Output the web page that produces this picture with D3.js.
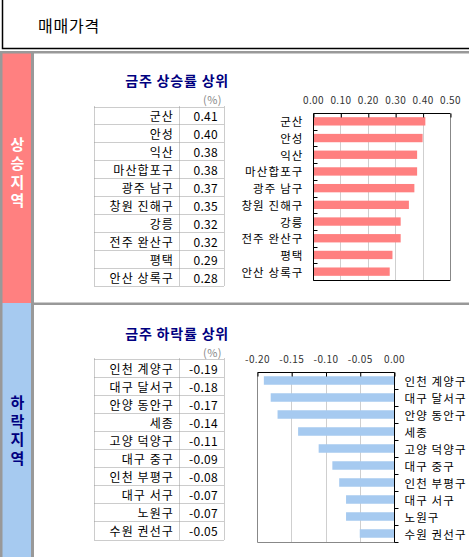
<!DOCTYPE html>
<html><head><meta charset="utf-8">
<script src="https://cdn.jsdelivr.net/npm/d3@7"></script>
<style>
html,body{margin:0;padding:0;background:#fff;}
svg{display:block;}
text{font-family:"Noto Sans CJK KR","Noto Sans",sans-serif;}
</style></head>
<body>
<script>
const headerTitle = "매매가격";
const upSideLabel = "상승지역";
const downSideLabel = "하락지역";
const upTitle = "금주 상승률 상위";
const downTitle = "금주 하락률 상위";
const unitLabel = "(%)";
const upCategories = ["군산","안성","익산","마산합포구","광주 남구","창원 진해구","강릉","전주 완산구","평택","안산 상록구"];
const upValues = [0.41,0.40,0.38,0.38,0.37,0.35,0.32,0.32,0.29,0.28];
const upTicks = [0,0.1,0.2,0.3,0.4,0.5];
const downCategories = ["인천 계양구","대구 달서구","안양 동안구","세종","고양 덕양구","대구 중구","인천 부평구","대구 서구","노원구","수원 권선구"];
const downValues = [-0.19,-0.18,-0.17,-0.14,-0.11,-0.09,-0.08,-0.07,-0.07,-0.05];
const downTicks = [-0.2,-0.15,-0.1,-0.05,0];

const W = 469, H = 557;
const svg = d3.select("body").append("svg").attr("width", W).attr("height", H);

// header box
svg.append("rect").attr("x",2.5).attr("y",-2).attr("width",W+5).attr("height",50.5)
  .attr("fill","#fff").attr("stroke","#000").attr("stroke-width",1.5);
svg.append("text").attr("x",38).attr("y",25).attr("dominant-baseline","central")
  .attr("font-size",16).attr("letter-spacing",0.8).attr("fill","#000").text(headerTitle);

// gray separator under header
svg.append("rect").attr("x",0).attr("y",51).attr("width",W).attr("height",2.5).attr("fill","#999");
// sidebar
svg.append("rect").attr("x",0).attr("y",51).attr("width",34).attr("height",H-51).attr("fill","#999");
svg.append("rect").attr("x",2.5).attr("y",53.5).attr("width",28.5).attr("height",303-53.5).attr("fill","#FF8080");
svg.append("rect").attr("x",2.5).attr("y",303).attr("width",28.5).attr("height",H-303).attr("fill","#A6CAF0");
// divider between sections
svg.append("rect").attr("x",34).attr("y",302.5).attr("width",W-34).attr("height",2.5).attr("fill","#999");

function sideLabel(txt, cy, color){
  svg.append("text").attr("x",17.5).attr("y",cy).attr("text-anchor","middle")
    .style("writing-mode","vertical-rl").style("glyph-orientation-vertical","0")
    .attr("font-size",15).attr("letter-spacing",3.6).attr("font-weight","bold").attr("fill",color).text(txt);
}
sideLabel(upSideLabel, 174.5, "#fff");
sideLabel(downSideLabel, 432, "#000080");

function drawTable(cats, vals, titleText, titleY, unitY, top, bottom){
  const g = svg.append("g");
  g.append("text").attr("x",229).attr("y",titleY).attr("text-anchor","end").attr("dominant-baseline","central")
    .attr("font-size",14).attr("letter-spacing",0.8).attr("font-weight","bold").attr("fill","#000080").text(titleText);
  g.append("text").attr("x",222).attr("y",unitY).attr("text-anchor","end").attr("dominant-baseline","central")
    .attr("font-size",11).attr("letter-spacing",0.5).attr("fill","#888").text(unitLabel);
  const y = d3.scaleBand().domain(d3.range(cats.length)).range([top,bottom]);
  const left = 94.5, mid = 179.5, right = 224.5;
  const dash = {"stroke":"#999","stroke-width":1,"stroke-dasharray":"1,1","fill":"none"};
  const lines = [];
  d3.range(cats.length+1).forEach(i=>{ const yy = Math.round(top + i*y.step())+0.5; lines.push([left,yy,right,yy]); });
  [left,mid,right].forEach(x=>lines.push([x,top,x,bottom]));
  g.selectAll("line").data(lines).join("line")
    .attr("x1",d=>d[0]).attr("y1",d=>d[1]).attr("x2",d=>d[2]).attr("y2",d=>d[3])
    .each(function(){ const s=d3.select(this); for(const k in dash) s.attr(k,dash[k]); });
  g.selectAll("text.cat").data(cats).join("text").attr("class","cat")
    .attr("x",174).attr("y",(d,i)=>y(i)+y.bandwidth()/2+0.5).attr("text-anchor","end").attr("dominant-baseline","central")
    .attr("font-size",12).attr("letter-spacing",1.1).attr("fill","#000").text(d=>d);
  g.selectAll("text.val").data(vals).join("text").attr("class","val")
    .attr("x",218).attr("y",(d,i)=>y(i)+y.bandwidth()/2+0.5).attr("text-anchor","end").attr("dominant-baseline","central")
    .attr("font-size",12).attr("letter-spacing",0.3).attr("fill","#000").text(d=>d3.format(".2f")(d).replace("−","-"));
}
drawTable(upCategories, upValues, upTitle, 80, 99, 106.5, 286);
drawTable(downCategories, downValues, downTitle, 333, 352, 358.5, 539.5);

function drawChart(cats, vals, ticks, domain, x0, x1, y0, y1, color, axisRight){
  const g = svg.append("g");
  const x = d3.scaleLinear().domain(domain).range([x0,x1]);
  const y = d3.scaleBand().domain(d3.range(cats.length)).range([y0,y1]).paddingInner(0.5).paddingOuter(0.25);
  const yb = d3.scaleBand().domain(d3.range(cats.length)).range([y0,y1]);
  // gridlines (interior ticks)
  const interior = ticks.filter(t=>t!==domain[0] && t!==domain[1]);
  g.selectAll("line.grid").data(interior)
    .join("line").attr("class","grid")
    .attr("x1",d=>Math.round(x(d))+0.5).attr("x2",d=>Math.round(x(d))+0.5).attr("y1",y0).attr("y2",y1)
    .attr("stroke","#cfcfcf").attr("stroke-width",1);
  // bars
  g.selectAll("rect.bar").data(vals).join("rect").attr("class","bar")
    .attr("x",d=>x(Math.min(0,d))).attr("width",d=>Math.abs(x(d)-x(0)))
    .attr("y",(d,i)=>y(i)).attr("height",y.bandwidth()).attr("fill",color);
  // frame
  const L = x0+0.5, R = x1+0.5, T = y0+0.5, B = y1+0.5;
  const dark = "#000", light = "#888";
  g.append("line").attr("x1",L).attr("x2",R).attr("y1",T).attr("y2",T).attr("stroke",dark);
  g.append("line").attr("x1",L).attr("x2",R).attr("y1",B).attr("y2",B).attr("stroke",axisRight?light:dark);
  g.append("line").attr("x1",L).attr("x2",L).attr("y1",T).attr("y2",B).attr("stroke",axisRight?light:dark);
  g.append("line").attr("x1",R).attr("x2",R).attr("y1",T).attr("y2",B).attr("stroke",axisRight?dark:light);
  // top value axis
  const ax = d3.axisTop(x).tickValues(ticks).tickSize(-4).tickPadding(10)
    .tickFormat(d=>d3.format(".2f")(d).replace("−","-"));
  const axg = g.append("g").attr("transform",`translate(0,${T})`).call(ax);
  axg.select(".domain").remove();
  axg.selectAll(".tick line").attr("stroke","#000").attr("transform","translate(0.5,0)");
  axg.selectAll(".tick text").attr("font-family","Liberation Sans, Arial, sans-serif").attr("font-size",10).attr("fill","#333")
    .attr("letter-spacing",0.4);
  // category ticks at band boundaries
  const catX = axisRight ? R : L;
  g.selectAll("line.ctick").data(d3.range(1,cats.length+1).map(i=>y0+i*yb.step()))
    .join("line").attr("class","ctick")
    .attr("x1",catX).attr("x2",catX+4).attr("y1",d=>Math.round(d)+0.5).attr("y2",d=>Math.round(d)+0.5)
    .attr("stroke","#000");
  // category labels
  g.selectAll("text.clab").data(cats).join("text").attr("class","clab")
    .attr("x",axisRight ? R+10 : L-10)
    .attr("y",(d,i)=>yb(i)+yb.bandwidth()/2)
    .attr("text-anchor",axisRight?"start":"end").attr("dominant-baseline","central")
    .attr("font-size",11.5).attr("letter-spacing",1.1).attr("fill","#000").text(d=>d);
}
drawChart(upCategories, upValues, upTicks, [0,0.5], 313, 450, 113, 280, "#FF8080", false);
drawChart(downCategories, downValues, downTicks, [-0.2,0], 257, 394, 372, 542, "#A6CAF0", true);
</script>
</body></html>
